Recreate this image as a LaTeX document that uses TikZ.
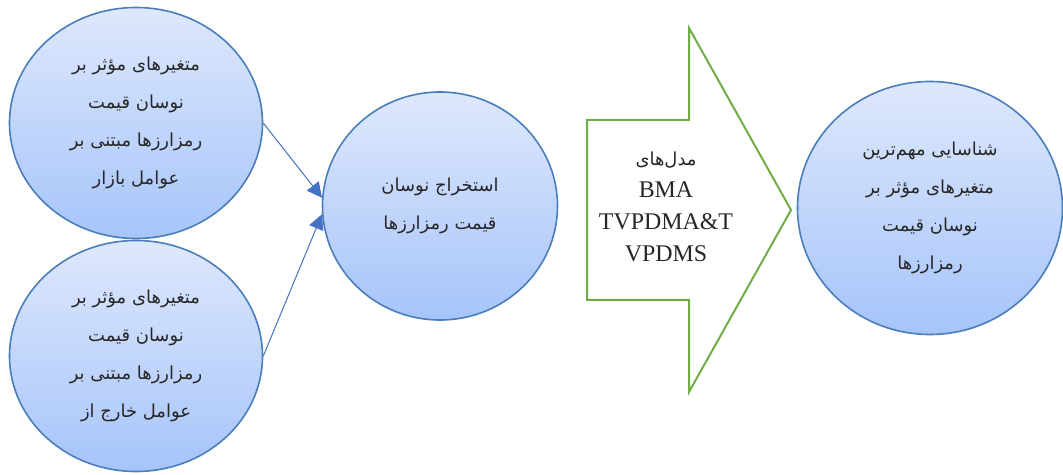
\documentclass[tikz,border=0pt]{standalone}
\usepackage{fontspec}
\setmainfont{Liberation Serif}
\newfontfamily\farsifont[Script=Arabic]{DejaVu Sans}
\TeXXeTstate=1
\usetikzlibrary{shapes.geometric,arrows.meta}
\definecolor{bubbletop}{RGB}{222,232,252}
\definecolor{bubblebot}{RGB}{166,196,250}
\definecolor{bubbleline}{RGB}{74,126,187}
\definecolor{linkblue}{RGB}{68,114,196}
\definecolor{modelgreen}{RGB}{112,173,71}
\definecolor{inktext}{RGB}{38,38,38}
\newcommand{\fa}[1]{\beginR #1\endR}
\tikzset{
  bubble/.style={ellipse,draw=bubbleline,line width=1.6bp,top color=bubbletop,bottom color=bubblebot,
    inner sep=0pt,align=center,text=inktext,font=\farsifont\fontsize{18}{38}\selectfont},
  conn/.style={linkblue,line width=1bp},
}
\begin{document}
\begin{tikzpicture}[>={Triangle[length=15bp,width=15bp]},line join=miter,]
\useasboundingbox (0bp,0bp) rectangle (1063bp,475bp);
%%
\node (market) at (136bp,352bp) [bubble,minimum width=253bp,minimum height=231bp]
  {\fa{متغیرهای مؤثر بر}\\ \fa{نوسان قیمت}\\ \fa{رمزارزها مبتنی بر}\\ \fa{عوامل بازار}};
  \node (outside) at (136bp,119bp) [bubble,minimum width=253bp,minimum height=231bp]
  {\fa{متغیرهای مؤثر بر}\\ \fa{نوسان قیمت}\\ \fa{رمزارزها مبتنی بر}\\ \fa{عوامل خارج از}};
  \node (extract) at (440bp,269bp) [bubble,minimum width=235bp,minimum height=228bp]
  {\fa{استخراج نوسان}\\ \fa{قیمت رمزارزها}};
  \node (ranking) at (930bp,267bp) [bubble,minimum width=265bp,minimum height=253bp]
  {\fa{شناسایی مهم‌ترین}\\ \fa{متغیرهای مؤثر بر}\\ \fa{نوسان قیمت}\\ \fa{رمزارزها}};
  \draw [modelgreen,line width=2bp] (587bp,355bp) -- (689bp,355bp) -- (689bp,447bp) -- (791bp,265bp)
    -- (689bp,83bp) -- (689bp,175bp) -- (587bp,175bp) -- cycle;
  \node (models) at (666bp,268bp) [align=center,text=inktext,font=\fontsize{24}{32}\selectfont]
  {{\farsifont\fontsize{18}{32}\selectfont\fa{مدل‌های}}\\ BMA\\ TVPDMA\&T\\ VPDMS};
  \draw [conn,->] (market.east) -- (extract.176);
  \draw [conn,->] (outside.east) -- (extract.184);
%
\end{tikzpicture}
\end{document}
